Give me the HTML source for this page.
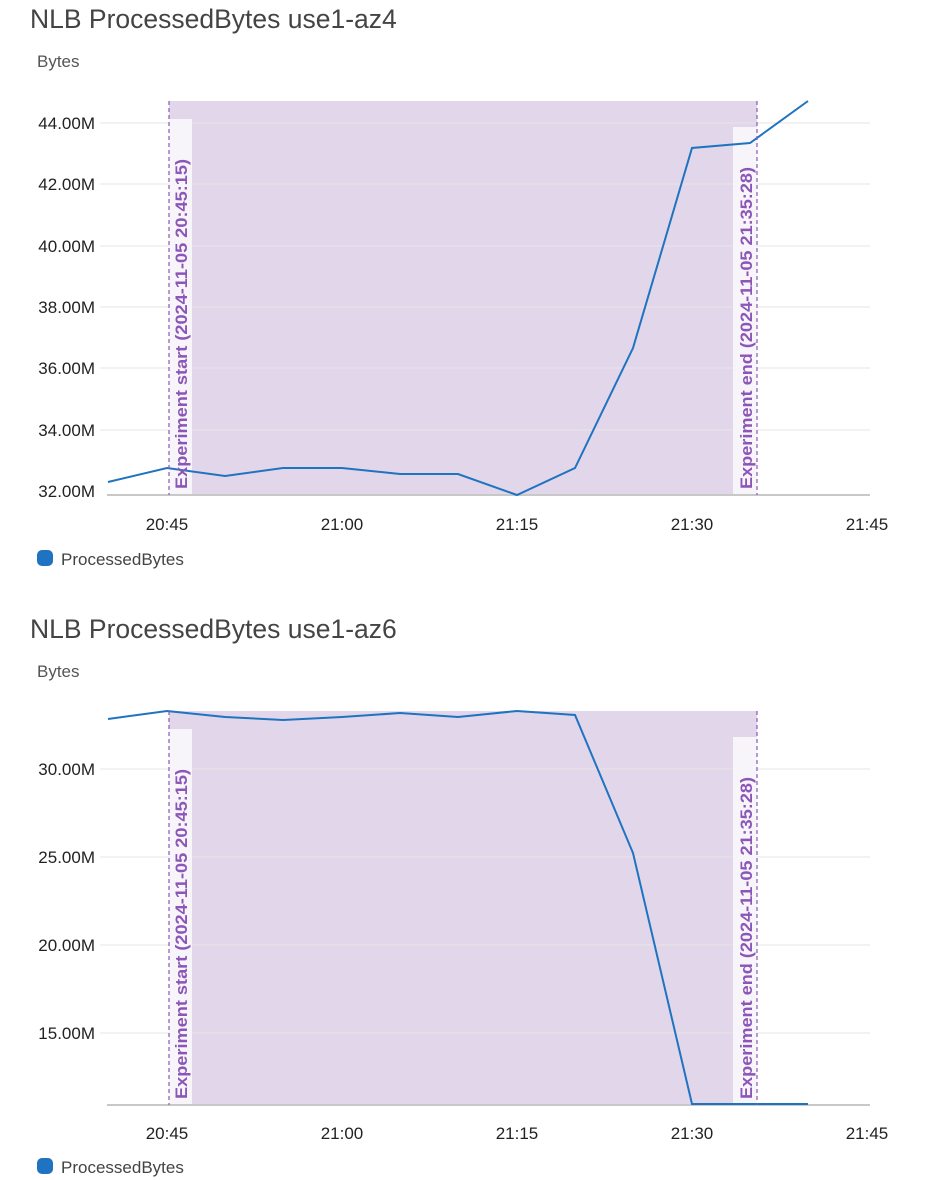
<!DOCTYPE html>
<html><head><meta charset="utf-8"><style>
html,body{margin:0;padding:0;background:#fff;}
svg{display:block;font-family:"Liberation Sans",sans-serif;}
</style></head><body>
<svg width="925" height="1180" viewBox="0 0 925 1180" xmlns="http://www.w3.org/2000/svg">
<!-- Chart 1 -->
<text x="30" y="28" font-size="26.5" fill="#444">NLB ProcessedBytes use1-az4</text>
<text x="37" y="67" font-size="17" fill="#555">Bytes</text>
<rect x="169" y="101" width="588" height="394" fill="#e2d7ea"/>
<g stroke="#e6e6e6" stroke-width="1">
<line x1="100" x2="870" y1="123" y2="123"/><line x1="100" x2="870" y1="184" y2="184"/>
<line x1="100" x2="870" y1="246" y2="246"/><line x1="100" x2="870" y1="307" y2="307"/>
<line x1="100" x2="870" y1="368" y2="368"/><line x1="100" x2="870" y1="430" y2="430"/>
</g>
<g font-size="17" fill="#222" text-anchor="end">
<text x="95" y="129">44.00M</text><text x="95" y="190">42.00M</text><text x="95" y="252">40.00M</text>
<text x="95" y="313">38.00M</text><text x="95" y="374">36.00M</text><text x="95" y="436">34.00M</text>
<text x="95" y="497">32.00M</text></g>
<rect x="169" y="119" width="23" height="376" fill="#f7f5f9"/>
<rect x="733" y="127" width="24" height="368" fill="#f7f5f9"/>
<line x1="107" x2="870" y1="495" y2="495" stroke="#c8c8c8" stroke-width="2"/>
<polyline fill="none" stroke="#1f73c0" stroke-width="2" points="108,482 167,468 225,476 283,468 342,468 400,474 458,474 517,495 575,468 633,348 692,148 750,143 808,101"/>
<line x1="169" x2="169" y1="101" y2="495" stroke="#8c56b8" stroke-width="1.2" stroke-dasharray="4,3"/>
<line x1="757" x2="757" y1="101" y2="495" stroke="#8c56b8" stroke-width="1.2" stroke-dasharray="4,3"/>
<text transform="translate(187,489) rotate(-90)" font-size="17" fill="#8c56b8" font-weight="bold" textLength="330" lengthAdjust="spacingAndGlyphs">Experiment start (2024-11-05 20:45:15)</text>
<text transform="translate(752,489) rotate(-90)" font-size="17" fill="#8c56b8" font-weight="bold" textLength="322" lengthAdjust="spacingAndGlyphs">Experiment end (2024-11-05 21:35:28)</text>
<g font-size="17" fill="#222" text-anchor="middle">
<text x="167" y="530">20:45</text><text x="342" y="530">21:00</text><text x="517" y="530">21:15</text>
<text x="692" y="530">21:30</text><text x="867" y="530">21:45</text></g>
<rect x="37" y="550" width="16" height="16" rx="5" fill="#1f73c0"/>
<text x="61" y="565" font-size="17" fill="#444">ProcessedBytes</text>

<!-- Chart 2 -->
<text x="30" y="638" font-size="26.5" fill="#444">NLB ProcessedBytes use1-az6</text>
<text x="37" y="677" font-size="17" fill="#555">Bytes</text>
<rect x="169" y="711" width="588" height="394" fill="#e2d7ea"/>
<g stroke="#e6e6e6" stroke-width="1">
<line x1="100" x2="870" y1="769" y2="769"/><line x1="100" x2="870" y1="857" y2="857"/>
<line x1="100" x2="870" y1="945" y2="945"/><line x1="100" x2="870" y1="1033" y2="1033"/>
</g>
<g font-size="17" fill="#222" text-anchor="end">
<text x="95" y="775">30.00M</text><text x="95" y="863">25.00M</text>
<text x="95" y="951">20.00M</text><text x="95" y="1039">15.00M</text></g>
<rect x="169" y="729" width="23" height="376" fill="#f7f5f9"/>
<rect x="733" y="737" width="24" height="368" fill="#f7f5f9"/>
<line x1="107" x2="870" y1="1105" y2="1105" stroke="#c8c8c8" stroke-width="2"/>
<polyline fill="none" stroke="#1f73c0" stroke-width="2" points="108,719 167,711 225,717 283,720 342,717 400,713 458,717 517,711 575,715 633,853 692,1104 750,1104 808,1104"/>
<line x1="169" x2="169" y1="711" y2="1105" stroke="#8c56b8" stroke-width="1.2" stroke-dasharray="4,3"/>
<line x1="757" x2="757" y1="711" y2="1105" stroke="#8c56b8" stroke-width="1.2" stroke-dasharray="4,3"/>
<text transform="translate(187,1099) rotate(-90)" font-size="17" fill="#8c56b8" font-weight="bold" textLength="330" lengthAdjust="spacingAndGlyphs">Experiment start (2024-11-05 20:45:15)</text>
<text transform="translate(752,1099) rotate(-90)" font-size="17" fill="#8c56b8" font-weight="bold" textLength="322" lengthAdjust="spacingAndGlyphs">Experiment end (2024-11-05 21:35:28)</text>
<g font-size="17" fill="#222" text-anchor="middle">
<text x="167" y="1139">20:45</text><text x="342" y="1139">21:00</text><text x="517" y="1139">21:15</text>
<text x="692" y="1139">21:30</text><text x="867" y="1139">21:45</text></g>
<rect x="37" y="1158" width="16" height="16" rx="5" fill="#1f73c0"/>
<text x="61" y="1173" font-size="17" fill="#444">ProcessedBytes</text>
</svg>
</body></html>
